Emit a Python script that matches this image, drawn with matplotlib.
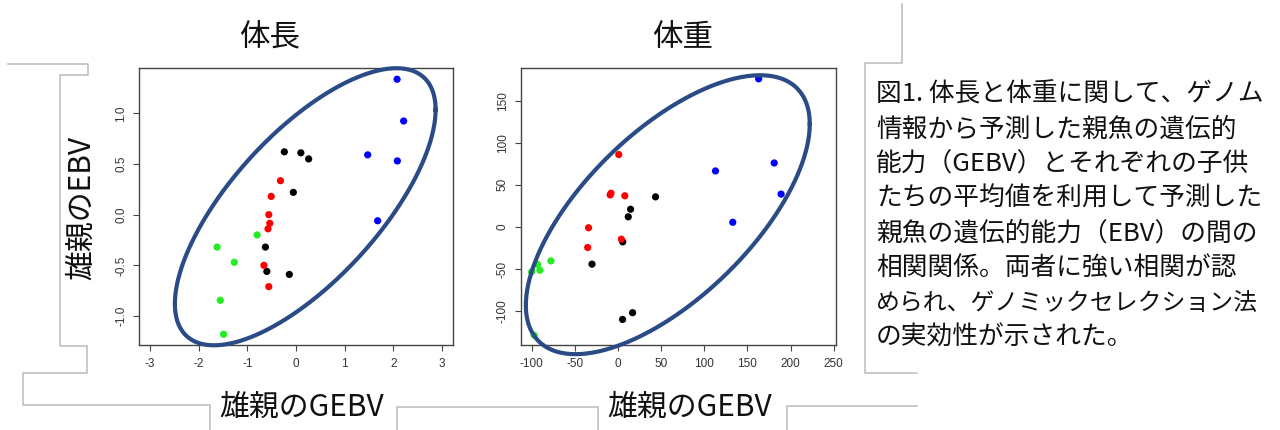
import matplotlib
matplotlib.use('Agg')
import matplotlib.pyplot as plt
import numpy as np
from matplotlib.lines import Line2D

plt.rcParams['font.family'] = ['Noto Sans CJK JP', 'DejaVu Sans']
plt.rcParams['axes.unicode_minus'] = False

# ---------------- data ----------------
titles = ['体長', '体重']
xlabel = '雄親のGEBV'
ylabel = '雄親のEBV'

len_blue_x = [2.08, 2.215, 1.475, 2.085, 1.68]
len_blue_y = [1.336, 0.924, 0.59, 0.53, -0.06]
len_black_x = [-0.24, 0.10, 0.26, -0.055, -0.63, -0.60, -0.137]
len_black_y = [0.62, 0.61, 0.55, 0.22, -0.32, -0.56, -0.59]
len_red_x = [-0.32, -0.51, -0.56, -0.54, -0.576, -0.66, -0.56]
len_red_y = [0.335, 0.18, 0.0, -0.085, -0.14, -0.50, -0.71]
len_green_x = [-1.625, -1.27, -0.80, -1.557, -1.49]
len_green_y = [-0.32, -0.47, -0.20, -0.845, -1.18]

wt_blue_x = [163, 181, 189, 113, 133]
wt_blue_y = [176, 76, 39, 66.5, 5.5]
wt_red_x = [1, -9, -8, 8, -34, -35, 4]
wt_red_y = [86, 38, 40, 37, -1, -24.5, -14.6]
wt_black_x = [43.6, 14.7, 12, 5.6, -30, 17, 5.4]
wt_black_y = [35.7, 21, 12, -17.8, -44.3, -102, -110]
wt_green_x = [-77.6, -93, -90.4, -100, -97]
wt_green_y = [-40.4, -44.7, -51.5, -53.5, -128.7]

len_xticks = [-3, -2, -1, 0, 1, 2, 3]
len_yticks = [-1.0, -0.5, 0.0, 0.5, 1.0]
wt_xticks = [-100, -50, 0, 50, 100, 150, 200, 250]
wt_yticks = [-100, -50, 0, 50, 100, 150]

# ellipse: centre x, centre y, half-width, half-height, correlation
len_ellipse = [0.19, 0.078, 2.682, 1.367, 0.70]
wt_ellipse = [57.8, 14.5, 164.4, 165.8, 0.65]

caption = ['図1. 体長と体重に関して、ゲノム',
           '情報から予測した親魚の遺伝的',
           '能力（GEBV）とそれぞれの子供',
           'たちの平均値を利用して予測した',
           '親魚の遺伝的能力（EBV）の間の',
           '相関関係。両者に強い相関が認',
           'められ、ゲノミックセレクション法',
           'の実効性が示された。']
caption_sizes = [18.5, 18.5, 18.5, 18.5, 18.5, 18.5, 17.2, 18.5]

# ---------------- figure ----------------
W, H = 1280, 430
fig = plt.figure(figsize=(12.8, 4.3), dpi=100)
fig.patch.set_facecolor('white')

def fx(x):
    return x / W

def fy(y):
    return 1 - y / H

cols = {'blue': '#0000FF', 'red': '#FF0000', 'black': '#000000', 'green': '#22EE22'}

def draw_panel(rect, groups, xticks, yticks, xlim, ylim, ell, yfmt):
    ax = fig.add_axes(rect)
    for (xs, ys, c) in groups:
        ax.scatter(xs, ys, s=27, color=cols[c], edgecolors='none', zorder=2)
    cx, cy, rx, ry, rho = ell
    t = np.linspace(0, 2 * np.pi, 400)
    ex = cx + rx * np.cos(t)
    ey = cy + ry * (rho * np.cos(t) + np.sqrt(1 - rho ** 2) * np.sin(t))
    ax.plot(ex, ey, color='#2A4B85', lw=3.0, clip_on=False, zorder=3)
    ax.set_xlim(*xlim)
    ax.set_ylim(*ylim)
    ax.set_xticks(xticks)
    ax.set_yticks(yticks)
    ax.set_xticklabels([str(v) for v in xticks], family='Liberation Sans')
    ax.set_yticklabels([yfmt(v) for v in yticks], family='Liberation Sans',
                       rotation=90, va='center')
    ax.tick_params(direction='out', length=4.5, width=0.8, colors='#444444',
                   labelsize=8.5, labelcolor='#333333')
    ax.tick_params(axis='x', pad=5)
    ax.tick_params(axis='y', pad=4)
    for sp in ax.spines.values():
        sp.set_color('#444444')
        sp.set_linewidth(1.0)
    return ax

draw_panel([fx(139), fy(345), 314 / W, 277 / H],
           [(len_blue_x, len_blue_y, 'blue'), (len_black_x, len_black_y, 'black'),
            (len_red_x, len_red_y, 'red'), (len_green_x, len_green_y, 'green')],
           len_xticks, len_yticks, (-3.23, 3.23), (-1.286, 1.447), len_ellipse,
           lambda v: f'{v:.1f}')

draw_panel([fx(520.5), fy(345), 315 / W, 277 / H],
           [(wt_blue_x, wt_blue_y, 'blue'), (wt_black_x, wt_black_y, 'black'),
            (wt_red_x, wt_red_y, 'red'), (wt_green_x, wt_green_y, 'green')],
           wt_xticks, wt_yticks, (-112.8, 252), (-140.4, 188.9), wt_ellipse,
           lambda v: f'{v:d}')

# titles and labels
fig.text(fx(270), fy(38), titles[0], fontsize=22, ha='center', va='center', color='#111111')
fig.text(fx(683), fy(38), titles[1], fontsize=22, ha='center', va='center', color='#111111')
fig.text(fx(302), fy(407), xlabel, fontsize=21.5, ha='center', va='center', color='#111111')
fig.text(fx(690), fy(407), xlabel, fontsize=21.5, ha='center', va='center', color='#111111')
fig.text(fx(82), fy(208), ylabel, fontsize=21.5, ha='center', va='center', rotation=90,
         color='#111111')

# caption
for i, line in enumerate(caption):
    fig.text(fx(876), fy(95 + i * 34.7), line, fontsize=caption_sizes[i], ha='left',
             va='center', color='#111111')

# bracket lines
brackets = [
    [(8, 64), (88, 64), (88, 75), (60, 75), (60, 346), (87, 346), (87, 373),
     (23, 373), (23, 405), (210, 405), (210, 432)],
    [(397, 432), (397, 407), (598, 407), (598, 432)],
    [(787, 432), (787, 406), (917, 406)],
    [(902, 4), (902, 63), (865, 63), (865, 373), (917, 373)],
]
for br in brackets:
    xs = [fx(p[0]) for p in br]
    ys = [fy(p[1]) for p in br]
    fig.add_artist(Line2D(xs, ys, color='#BBBBBB', lw=1.1, transform=fig.transFigure))

fig.savefig('out.png', dpi=100, facecolor='white')
